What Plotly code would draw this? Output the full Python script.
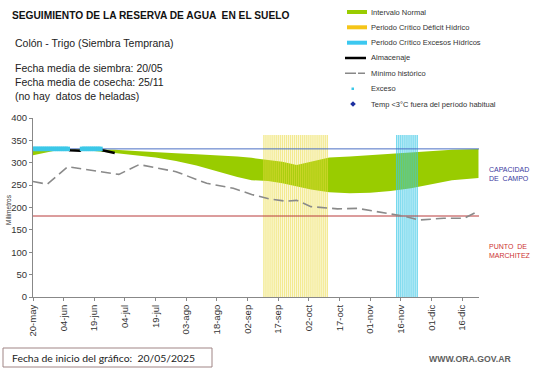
import plotly.graph_objects as go
import pandas as pd

# ---------------- data ----------------
band_dates = ["2025-05-20", "2025-05-25", "2025-05-30", "2025-06-09", "2025-06-19", "2025-06-29",
              "2025-07-09", "2025-07-19", "2025-07-29", "2025-08-08", "2025-08-18", "2025-08-28",
              "2025-09-04", "2025-09-12", "2025-09-19", "2025-09-26", "2025-10-03", "2025-10-12",
              "2025-10-22", "2025-11-01", "2025-11-11", "2025-11-21", "2025-12-01", "2025-12-11",
              "2025-12-24"]
band_top = [330, 330, 330, 330, 330, 329, 326, 323, 321, 319, 317, 314, 311, 306, 302, 295, 302,
            312, 314, 317, 319, 322, 326, 329, 331]
band_bottom = [317, 322, 326, 327, 326, 322, 317, 312, 304, 294, 281, 268, 261, 259, 254, 247, 240,
               234, 232, 233, 237, 243, 252, 261, 266]

min_dates = ["2025-05-20", "2025-05-27", "2025-06-06", "2025-06-17", "2025-07-01", "2025-07-11",
             "2025-07-29", "2025-08-13", "2025-08-26", "2025-09-04", "2025-09-13", "2025-09-21",
             "2025-09-26", "2025-10-03", "2025-10-16", "2025-10-26", "2025-11-06", "2025-11-17",
             "2025-11-25", "2025-12-07", "2025-12-17", "2025-12-24"]
min_vals = [258, 252, 291, 284, 274, 296, 280, 254, 243, 229, 219, 214, 216, 202, 197, 198, 189,
            181, 172, 176, 176, 192]

alm_dates = ["2025-05-20", "2025-06-06", "2025-06-07", "2025-06-12", "2025-06-13", "2025-06-22",
             "2025-06-23", "2025-06-29"]
alm_vals = [331, 330, 328, 327, 331, 331, 328, 322]

exceso_dates = ["2025-05-20", "2025-05-21", "2025-05-22", "2025-05-23", "2025-05-24", "2025-05-25",
                "2025-05-26", "2025-05-27", "2025-05-28", "2025-05-29", "2025-05-30", "2025-05-31",
                "2025-06-01", "2025-06-02", "2025-06-03", "2025-06-04", "2025-06-05", "2025-06-06",
                "2025-06-13", "2025-06-14", "2025-06-15", "2025-06-16", "2025-06-17", "2025-06-18",
                "2025-06-19", "2025-06-20", "2025-06-21", "2025-06-22"]
exceso_vals = [331] * len(exceso_dates)

deficit_start, deficit_end = "2025-09-10", "2025-10-11"
excess_start, excess_end = "2025-11-14", "2025-11-24"
period_level = 362

capacidad = 331
marchitez = 181

x_start, x_end = "2025-05-20", "2025-12-24 06:00"

tick_dates = ["2025-05-20", "2025-06-04", "2025-06-19", "2025-07-04", "2025-07-19", "2025-08-03",
              "2025-08-18", "2025-09-02", "2025-09-17", "2025-10-02", "2025-10-17", "2025-11-01",
              "2025-11-16", "2025-12-01", "2025-12-16"]
tick_labels = ["20-may", "04-jun", "19-jun", "04-jul", "19-jul", "03-ago", "18-ago", "02-sep",
               "17-sep", "02-oct", "17-oct", "01-nov", "16-nov", "01-dic", "16-dic"]

# ---------------- layout geometry ----------------
W, H = 541, 368
L, R, T, B = 33, 62, 118, 71
PW, PH = W - L - R, H - T - B


def px(x):
    return (x - L) / PW


def py(y):
    return (H - B - y) / PH


GREEN = "#99cc00"
FONT = "Liberation Sans, Arial, sans-serif"

deficit_days = pd.date_range(deficit_start, deficit_end)
excess_days = pd.date_range(excess_start, excess_end)

fig = go.Figure()

# Normal interval band (base subplot)
fig.add_trace(go.Scatter(x=band_dates, y=band_bottom, mode="lines", line=dict(width=0, color=GREEN),
                         hoverinfo="skip", xaxis="x", yaxis="y"))
fig.add_trace(go.Scatter(x=band_dates, y=band_top, mode="lines", line=dict(width=0, color=GREEN),
                         fill="tonexty", fillcolor=GREEN, name="Intervalo Normal", xaxis="x", yaxis="y"))

# Critical periods (overlay subplot, on top of band)
fig.add_trace(go.Bar(x=deficit_days, y=[period_level] * len(deficit_days),
                     marker=dict(color="rgba(235,220,68,0.59)", line=dict(width=0)),
                     name="Periodo Crítico Déficit Hídrico", xaxis="x2", yaxis="y2"))
fig.add_trace(go.Bar(x=excess_days, y=[period_level] * len(excess_days),
                     marker=dict(color="rgba(60,200,230,0.72)", line=dict(width=0)),
                     name="Periodo Crítico Excesos Hídricos", xaxis="x2", yaxis="y2"))

# Reference lines
fig.add_trace(go.Scatter(x=[x_start, x_end], y=[capacidad, capacidad], mode="lines",
                         line=dict(color="#4a6fc4", width=1), xaxis="x2", yaxis="y2"))
fig.add_trace(go.Scatter(x=[x_start, x_end], y=[marchitez, marchitez], mode="lines",
                         line=dict(color="#b83a3a", width=1), xaxis="x2", yaxis="y2"))

# Minimo historico
fig.add_trace(go.Scatter(x=min_dates, y=min_vals, mode="lines", name="Mínimo histórico",
                         line=dict(color="#8a8a8a", width=1.6, dash="10px,5px"), xaxis="x2", yaxis="y2"))
# Almacenaje
fig.add_trace(go.Scatter(x=alm_dates, y=alm_vals, mode="lines", name="Almacenaje",
                         line=dict(color="black", width=2.5), xaxis="x2", yaxis="y2"))
# Exceso
fig.add_trace(go.Scatter(x=exceso_dates, y=exceso_vals, mode="markers", name="Exceso",
                         marker=dict(color="#3cc8e8", size=4.5, symbol="square", line=dict(width=0)),
                         xaxis="x2", yaxis="y2"))

axis_common = dict(showgrid=False, zeroline=False)
fig.update_layout(
    width=W, height=H, margin=dict(l=L, r=R, t=T, b=B, pad=0),
    paper_bgcolor="white", plot_bgcolor="white", showlegend=False,
    bargap=0.3, barmode="overlay",
    font=dict(family=FONT, color="#333333"),
    xaxis=dict(type="date", range=[x_start, x_end], tickmode="array", tickvals=tick_dates,
               ticktext=tick_labels, tickangle=-90, ticks="outside", ticklen=3, tickcolor="#888888",
               showline=True, linecolor="#888888", linewidth=1,
               tickfont=dict(size=9.5, color="#333333", family=FONT), **axis_common),
    yaxis=dict(range=[0, 400], dtick=50, ticks="outside", ticklen=3, tickcolor="#888888",
               showline=True, linecolor="#888888", linewidth=1,
               tickfont=dict(size=9.5, color="#333333", family=FONT), **axis_common),
    xaxis2=dict(type="date", range=[x_start, x_end], overlaying="x", matches="x", visible=False,
                **axis_common),
    yaxis2=dict(range=[0, 400], overlaying="y", matches="y", visible=False, **axis_common),
)

ann = []


def text(x, y, s, size, color="#333333", xanchor="left", family=FONT, **kw):
    ann.append(dict(x=px(x), y=py(y), xref="paper", yref="paper", text=s, showarrow=False,
                    xanchor=xanchor, yanchor="middle", align="left",
                    font=dict(size=size, color=color, family=family), **kw))


text(10, 15, "<b>SEGUIMIENTO DE LA RESERVA DE AGUA  EN EL SUELO</b>", 10.2, "#111111")
text(13, 43, "Colón - Trigo (Siembra Temprana)", 10.5, "#222222")
text(13, 68, "Fecha media de siembra: 20/05", 10.5, "#222222")
text(13, 82, "Fecha media de cosecha: 25/11", 10.5, "#222222")
text(13, 96, "(no hay  datos de heladas)", 10.5, "#222222")

legend_rows = [12, 27.3, 42.7, 58, 73.3, 88.7, 104]
legend_labels = ["Intervalo Normal", "Periodo Crítico Déficit Hídrico", "Periodo Crítico Excesos Hídricos",
                 "Almacenaje", "Mínimo histórico", "Exceso", "Temp <3°C fuera del período habitual"]
for yy, lab in zip(legend_rows, legend_labels):
    text(369, yy, lab, 7.5, "#333333")

text(487, 174, "CAPACIDAD<br>DE  CAMPO", 7, "#3a3aa0")
text(487, 251, "PUNTO  DE<br>MARCHITEZ", 7, "#cc3333")
text(8, 210, "Milímetros", 6.5, "#333333", xanchor="center", textangle=-90)
text(10, 358, "Fecha de inicio del gráfico:  20/05/2025", 10.4, "#222222", family="Lato, sans-serif")
text(470, 359, "<b>WWW.ORA.GOV.AR</b>", 8.7, "#606060", xanchor="center")

shapes = []


def hline(x0, x1, y, color, width, dash="solid"):
    shapes.append(dict(type="line", xref="paper", yref="paper", x0=px(x0), x1=px(x1), y0=py(y), y1=py(y),
                       line=dict(color=color, width=width, dash=dash)))


hline(347, 367, legend_rows[0], GREEN, 4)
hline(347, 367, legend_rows[1], "#f5c518", 4)
hline(347, 367, legend_rows[2], "#3cc8f0", 4)
hline(345, 366, legend_rows[3], "black", 2.5)
hline(345, 365, legend_rows[4], "#888888", 1.5, "11px,2px")
shapes.append(dict(type="rect", xref="paper", yref="paper", x0=px(351.5), x1=px(354), y0=py(87.5),
                   y1=py(90), line=dict(width=0), fillcolor="#3cc8e8"))
cx, cy, r = 353, 104, 2.8
shapes.append(dict(type="path", xref="paper", yref="paper",
                   path=f"M {px(cx)} {py(cy - r)} L {px(cx + r)} {py(cy)} L {px(cx)} {py(cy + r)} "
                        f"L {px(cx - r)} {py(cy)} Z",
                   line=dict(width=0), fillcolor="#1c2fa0"))
shapes.append(dict(type="rect", xref="paper", yref="paper", x0=px(3), x1=px(212), y0=py(348), y1=py(367),
                   line=dict(color="#a08585", width=1), fillcolor="rgba(0,0,0,0)"))

fig.update_layout(annotations=ann, shapes=shapes)
fig.write_html("out.html", config={"displayModeBar": False},
               post_script="document.body.style.margin='0';document.body.style.overflow='hidden';")
